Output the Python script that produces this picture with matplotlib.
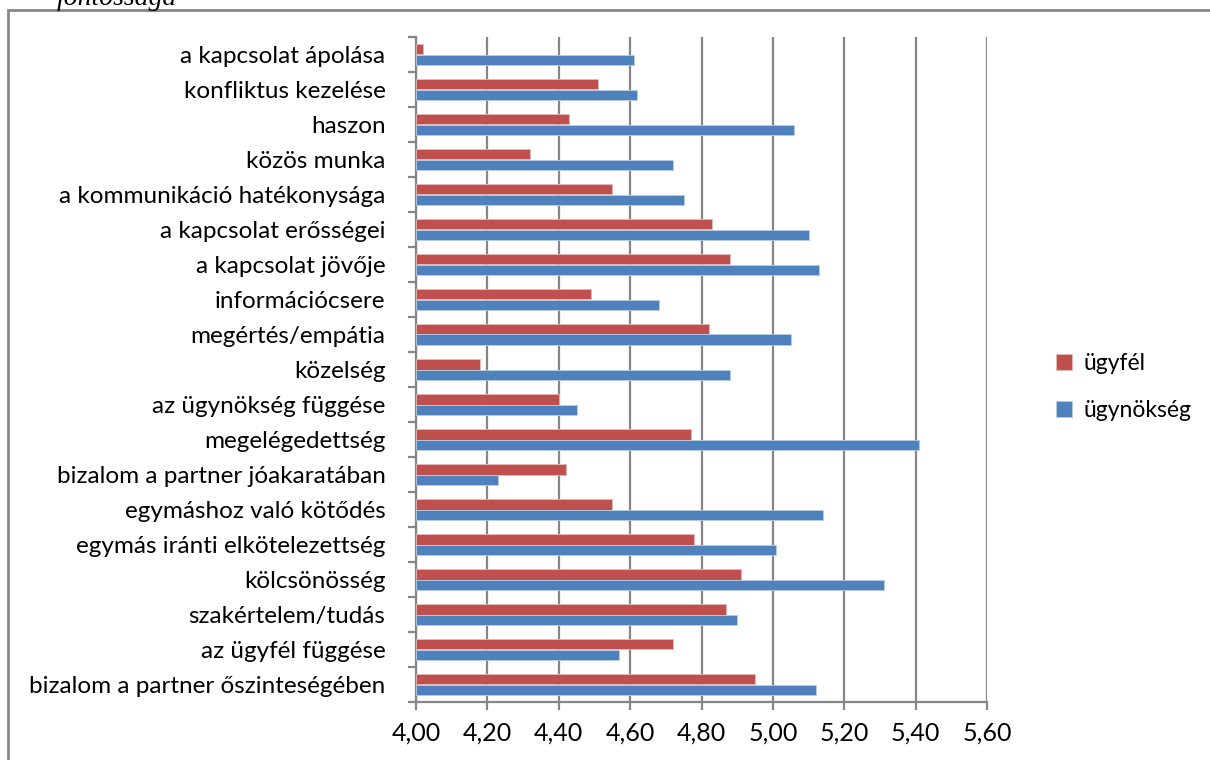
import matplotlib.pyplot as plt
import numpy as np
from matplotlib.patches import Rectangle

# categories listed top to bottom
categories = [
    'a kapcsolat ápolása',
    'konfliktus kezelése',
    'haszon',
    'közös munka',
    'a kommunikáció hatékonysága',
    'a kapcsolat erősségei',
    'a kapcsolat jövője',
    'információcsere',
    'megértés/empátia',
    'közelség',
    'az ügynökség függése',
    'megelégedettség',
    'bizalom a partner jóakaratában',
    'egymáshoz való kötődés',
    'egymás iránti elkötelezettség',
    'kölcsönösség',
    'szakértelem/tudás',
    'az ügyfél függése',
    'bizalom a partner őszinteségében',
]
ugyfel = [4.02, 4.51, 4.43, 4.32, 4.55, 4.83, 4.88, 4.49, 4.82, 4.18,
          4.40, 4.77, 4.42, 4.55, 4.78, 4.91, 4.87, 4.72, 4.95]
ugynokseg = [4.61, 4.62, 5.06, 4.72, 4.75, 5.10, 5.13, 4.68, 5.05, 4.88,
             4.45, 5.41, 4.23, 5.14, 5.01, 5.31, 4.90, 4.57, 5.12]
series_names = ['ügyfél', 'ügynökség']
xticks = [4.0, 4.2, 4.4, 4.6, 4.8, 5.0, 5.2, 5.4, 5.6]

plt.rcParams['font.family'] = ['Lato', 'DejaVu Sans']

W, H = 1210, 760
fig = plt.figure(figsize=(W / 100, H / 100), dpi=100)
ax = fig.add_axes([416 / W, 1 - 702 / H, (987 - 416) / W, (702 - 37) / H])

red = '#C0504D'
blue = '#4F81BD'
grid_col = '#868686'
base = 4.0
h = 0.31
y = np.arange(len(categories))

ax.barh(y - h / 2, np.array(ugyfel) - base, height=h, left=base, color=red,
        edgecolor='#E6B9B8', linewidth=0.6, label=series_names[0], zorder=3)
ax.barh(y + h / 2, np.array(ugynokseg) - base, height=h, left=base, color=blue,
        edgecolor='#B9CDE5', linewidth=0.6, label=series_names[1], zorder=3)

ax.set_xlim(4.0, 5.6)
ax.set_ylim(len(categories) - 0.5, -0.5)
ax.set_xticks(xticks)
ax.set_xticklabels([f'{v:.2f}'.replace('.', ',') for v in xticks], fontsize=18)
ax.xaxis.grid(True, color=grid_col, linewidth=1.6, zorder=0)

ax.set_yticks(y)
ax.set_yticklabels(categories, fontsize=17.5)
ax.set_yticks(np.arange(len(categories) + 1) - 0.5, minor=True)
ax.tick_params(axis='y', which='major', length=0, pad=22)
ax.tick_params(axis='y', which='minor', length=6, width=1.6, color=grid_col, direction='out')
ax.tick_params(axis='x', length=6, width=1.6, color=grid_col, direction='out', pad=8)

for side in ['top', 'right']:
    ax.spines[side].set_visible(False)
for side in ['left', 'bottom']:
    ax.spines[side].set_color(grid_col)
    ax.spines[side].set_linewidth(1.6)

handles, labels = ax.get_legend_handles_labels()
leg = ax.legend(handles, labels, loc='center left', bbox_to_anchor=(1035 / W, 1 - 387 / H),
                bbox_transform=fig.transFigure, frameon=False, fontsize=16.5,
                handlelength=0.7, handleheight=0.7, handletextpad=0.5, labelspacing=1.15)

# outer chart frame, running off the right and bottom edges
fig.patches.append(Rectangle((8 / W, -0.1), 1.2, 1 - 10 / H + 0.1,
                             transform=fig.transFigure, fill=False,
                             edgecolor=grid_col, linewidth=2, clip_on=False))

# heading text cut off at the top
fig.text(177 / W, 1 - 5 / H, 'fontossága', ha='right', va='baseline',
         fontsize=20, style='italic', family='Liberation Serif')

fig.savefig('out.png', dpi=100)
